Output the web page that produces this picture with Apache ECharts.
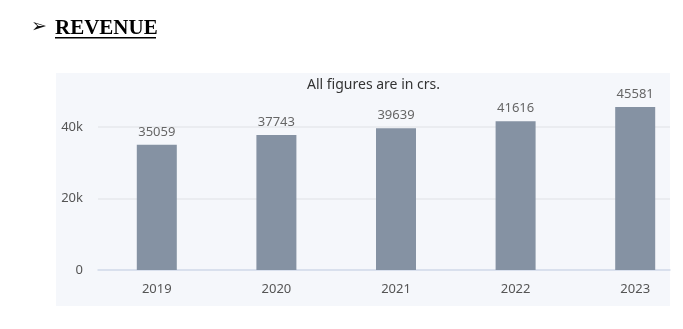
<!DOCTYPE html>
<html>
<head>
<meta charset="utf-8">
<script src="https://cdn.jsdelivr.net/npm/echarts@6/dist/echarts.min.js"></script>
<style>html,body{margin:0;padding:0;background:#fff}#c{width:683px;height:329px}</style>
</head>
<body>
<div id="c"></div>
<script>
const categories = ['2019', '2020', '2021', '2022', '2023'];
const revenue = [35059, 37743, 39639, 41616, 45581];
const yTicks = [0, 20000, 40000];
const titleText = 'All figures are in crs.';
const headingText = 'REVENUE';

const chart = echarts.init(document.getElementById('c'), null, {renderer: 'canvas'});
const font = '"Noto Sans", sans-serif';
chart.setOption({
  animation: false,
  backgroundColor: '#ffffff',
  title: {
    text: titleText, left: 307, top: 78, padding: 0,
    textStyle: {fontFamily: font, fontSize: 14, fontWeight: 'normal', color: '#333'}
  },
  graphic: [
    {type: 'rect', z: -10, shape: {x: 56, y: 73, width: 614, height: 233}, style: {fill: '#f5f7fb'}},
    {type: 'text', left: 31, top: 18, style: {text: '➢', font: 'bold 19px "DejaVu Sans"', fill: '#111'}},
    {type: 'text', left: 55, top: 18, style: {text: headingText, font: 'bold 21px "Liberation Serif"', fill: '#000'}},
    {type: 'rect', shape: {x: 55, y: 37, width: 101, height: 1.5}, style: {fill: '#000'}}
  ],
  grid: [
    {left: 98, width: 572, top: 127, bottom: 59, outerBoundsMode: 'none', containLabel: false},
    {left: 97, width: 598, top: 91.25, bottom: 59, outerBoundsMode: 'none', containLabel: false}
  ],
  xAxis: [
    {gridIndex: 0, type: 'category', data: categories, axisLine: {show: true, lineStyle: {color: '#d3dbec', width: 1.5}},
     axisTick: {show: false}, axisLabel: {show: false}, splitLine: {show: false}},
    {gridIndex: 1, type: 'category', data: categories, axisLine: {show: false}, axisTick: {show: false},
     axisLabel: {margin: 13, fontFamily: font, fontSize: 13, color: '#555'}}
  ],
  yAxis: [
    {gridIndex: 0, type: 'value', min: yTicks[0], max: yTicks[yTicks.length - 1], interval: 20000,
     axisLine: {show: false}, axisTick: {show: false},
     axisLabel: {margin: 15, fontFamily: font, fontSize: 13, color: '#555',
       formatter: v => v === 0 ? '0' : (v / 1000) + 'k'},
     splitLine: {lineStyle: {color: '#e6e8ec', width: 1.5}}},
    {gridIndex: 1, type: 'value', min: 0, max: 50000, show: false, splitLine: {show: false}}
  ],
  series: [{
    type: 'bar', xAxisIndex: 1, yAxisIndex: 1, data: revenue, barWidth: 40,
    itemStyle: {color: '#8592a3'},
    label: {show: true, position: 'top', distance: 6, fontFamily: font, fontSize: 13, color: '#666'}
  }]
});
</script>
</body>
</html>
